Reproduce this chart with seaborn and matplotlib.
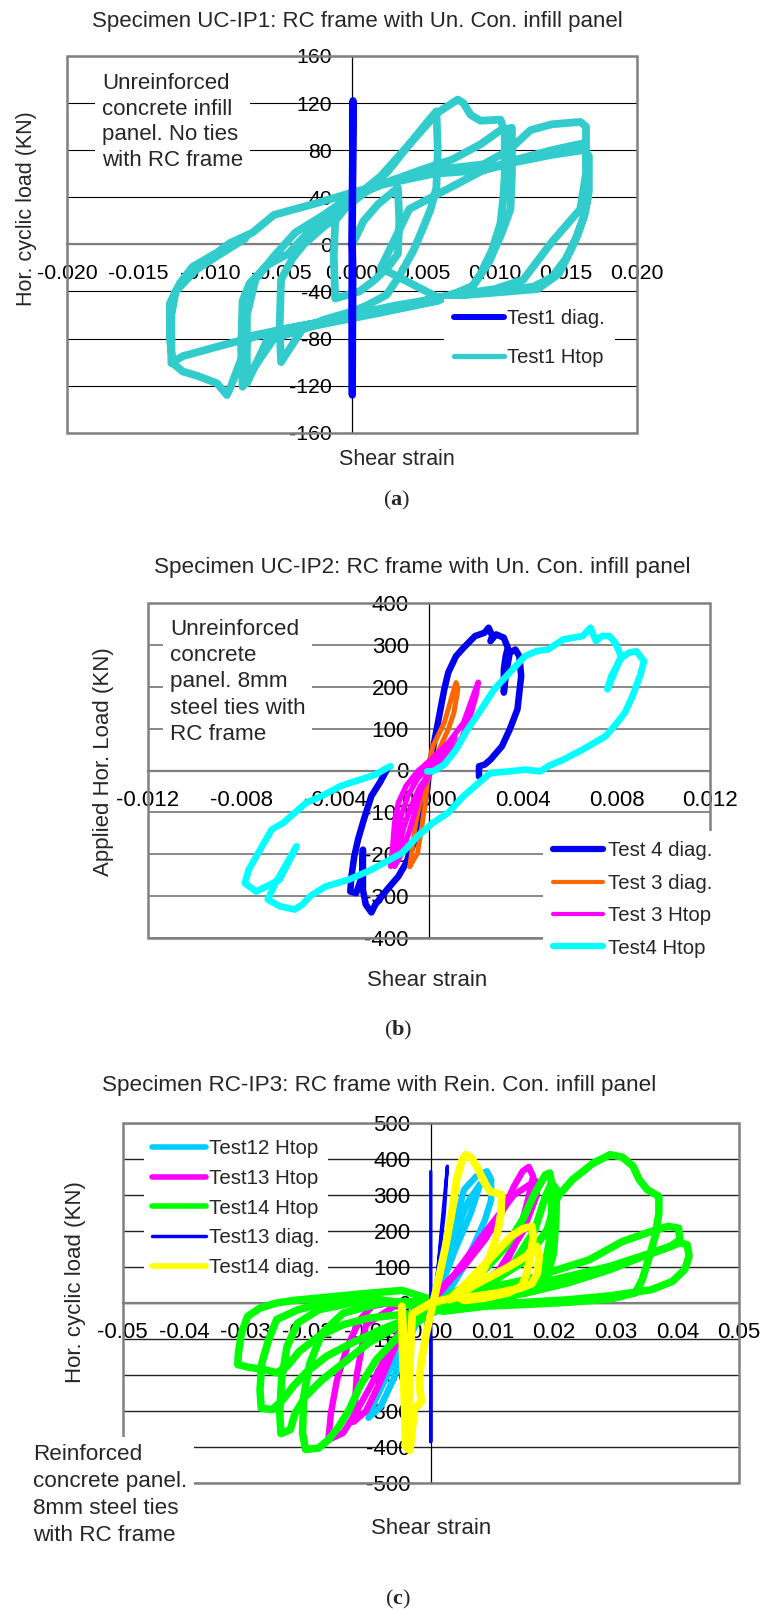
import numpy as np
import pandas as pd
import matplotlib
matplotlib.use("Agg")
import matplotlib.pyplot as plt
import seaborn as sns
from matplotlib.patches import Rectangle

sns.set_style("white")
plt.rcParams['font.family'] = ['Liberation Sans', 'DejaVu Sans']
plt.rcParams['mathtext.fontset'] = 'custom'
plt.rcParams['mathtext.rm'] = 'Liberation Serif'
plt.rcParams['mathtext.bf'] = 'Liberation Serif:bold'

# ---------------- Panel (a) data ----------------
a_xticks = [-0.020, -0.015, -0.010, -0.005, 0.000, 0.005, 0.010, 0.015, 0.020]
a_xlabels = ["-0.020", "-0.015", "-0.010", "-0.005", "0.000", "0.005", "0.010", "0.015", "0.020"]
a_yticks = [-160, -120, -80, -40, 0, 40, 80, 120, 160]
a_ylabels = ["-160", "-120", "-80", "-40", "0", "40", "80", "120", "160"]

a_diag_x = [0.0, 0.00003, 0.00005, 0.0, -0.00003, 0.0, 0.00004, 0.0]
a_diag_y = [0, 60, 122, 40, -60, -128, -20, 0]

a_htop_x = [0.0000, 0.0008, 0.0018, 0.0032, 0.0033, 0.0032, 0.0026, 0.0016, 0.0005, -0.0012, -0.0013, -0.0012,
            -0.0004, 0.0010, 0.0025, 0.0040, 0.0052, 0.0059, 0.0060, 0.0059, 0.0055, 0.0050, 0.0043, 0.0033, 0.0024, 0.0010, 0.0000,
            -0.0020, -0.0035, -0.0050, -0.0051, -0.0050, -0.0042, -0.0034, -0.0020, -0.0012, 0.0000,
            0.0020, 0.0040, 0.0060, 0.0074, 0.0078, 0.0083, 0.0090, 0.0104, 0.0107, 0.0107, 0.0106, 0.0104, 0.0098, 0.0090, 0.0083, 0.0060, 0.0030, 0.0000,
            -0.0030, -0.0055, -0.0072, -0.0077, -0.0078, -0.0077, -0.0072, -0.0060, -0.0045, -0.0035, -0.0020, 0.0000,
            0.0025, 0.0050, 0.0070, 0.0090, 0.0104, 0.0112, 0.0112, 0.0111, 0.0105, 0.0096, 0.0085, 0.0060, 0.0020, -0.0030, -0.0060, -0.0074, -0.0074, -0.0068, -0.0055, -0.0040, -0.0020, 0.0000,
            0.0030, 0.0057, 0.0092, 0.0110, 0.0125, 0.0140, 0.0160, 0.0164, 0.0164, 0.0165, 0.0165, 0.0162, 0.0157, 0.0150, 0.0140, 0.0127, 0.0105, 0.0080, 0.0057, 0.0030, 0.0000,
            -0.0048, -0.0072, -0.0085, -0.0088, -0.0095, -0.0108, -0.0119, -0.0126, -0.0128, -0.0128, -0.0121, -0.0112, -0.0095, -0.0086, -0.0070, -0.0055, -0.0025, 0.0000,
            0.0022, 0.0057, 0.0092, 0.0115, 0.0140, 0.0155, 0.0163, 0.0164, 0.0164, 0.0160, 0.0140, 0.0120, 0.0100, 0.0060, 0.0020,
            0.0040, 0.0092, 0.0115, 0.0140, 0.0162, 0.0166, 0.0166, 0.0163, 0.0158, 0.0152, 0.0145, 0.0130, 0.0100, 0.0070, 0.0040, 0.0000, -0.0048, -0.0095, -0.0119, -0.0127, -0.0127, -0.0124, -0.0110, -0.0095, -0.0075]
a_htop_y = [0, 20, 34, 48, 20, -8, -18, -30, -40, -46, -10, 20,
            32, 45, 62, 85, 103, 113, 80, 48, 30, 15, -5, -27, -43, -52, -57,
            -64, -72, -100, -70, -30, -12, 0, 15, 22, 38,
            58, 85, 112, 123, 120, 110, 105, 106, 95, 60, 40, 18, -5, -25, -38, -46, -52, -60,
            -70, -80, -110, -121, -90, -48, -33, -18, -8, 5, 22, 40,
            53, 64, 72, 85, 97, 99, 60, 30, 10, -15, -35, -48, -58, -70, -82, -118, -60, -30, -10, 10, 25, 42,
            55, 63, 68, 80, 97, 102, 104, 100, 85, 60, 38, 22, 5, -12, -28, -36, -39, -42, -46, -54, -61,
            -72, -78, -120, -128, -118, -112, -108, -101, -80, -50, -33, -19, -7, 1, 10, 25, 35, 44,
            51, 60, 63, 72, 80, 84, 86, 80, 60, 30, 2, -30, -38, -45, -20,
            30, 63, 70, 76, 80, 75, 45, 25, 8, -8, -25, -38, -41, -44, -52, -61, -72, -87, -95, -101, -60, -40, -22, -10, 5]

# ---------------- Panel (b) data ----------------
b_xticks = [-0.012, -0.008, -0.004, 0.000, 0.004, 0.008, 0.012]
b_xlabels = ["-0.012", "-0.008", "-0.004", "0.000", "0.004", "0.008", "0.012"]
b_yticks = [-400, -300, -200, -100, 0, 100, 200, 300, 400]
b_ylabels = ["-400", "-300", "-200", "-100", "0", "100", "200", "300", "400"]

b_t4diag_x = [-0.0018, -0.0021, -0.00246, -0.00278, -0.00303, -0.00319, -0.00331, -0.00336, -0.00311, -0.00286,
              -0.00282, -0.00282, -0.0027, -0.00246, -0.00229, -0.0018, -0.00131, -0.00098, -0.00065, -0.00033,
              -0.00008, 0.0, 0.00016, 0.00065, 0.00082, 0.00115, 0.00147, 0.00196, 0.00237, 0.00254,
              0.0027, 0.00262, 0.00286, 0.00319, 0.00336, 0.00327, 0.00319, 0.00319, 0.00327, 0.00344,
              0.00368, 0.00385, 0.00393, 0.00377, 0.00344, 0.00311, 0.00262, 0.00237, 0.00213, 0.00213]
b_t4diag_y = [2, -29, -61, -117, -165, -205, -253, -289, -293, -253,
              -189, -285, -320, -339, -320, -285, -253, -221, -173, -109,
              -45, 0, 50, 194, 234, 273, 293, 321, 329, 341,
              321, 309, 325, 317, 293, 273, 241, 186, 226, 281,
              289, 273, 226, 146, 98, 58, 26, 14, 10, -14]

b_t3diag_x = [-0.00082, -0.00074, -0.00057, -0.00033, 0.00016, 0.00065, 0.00098, 0.00115, 0.00123, 0.00106,
              0.00082, 0.00049, 0.00016, -0.00008, -0.00016, -0.00033, -0.00049, -0.00082]
b_t3diag_y = [-229, -197, -125, -61, 58, 114, 178, 210, 194, 138, 98, 58, 18, -29, -77, -141, -197, -229]

b_t3htop_x = [-0.00164, -0.00156, -0.00147, -0.00131, -0.00098, -0.00049, 0.0, 0.00082, 0.00147, 0.00188,
              0.0021, 0.002, 0.00172, 0.00139, 0.0009, 0.00041, 0.0, -0.00033, -0.00057, -0.00082, -0.00115, -0.00147,
              -0.0014, -0.0012, -0.0009, -0.0005, 0.0, 0.0006, 0.0011, 0.0006, 0.0001, -0.0004, -0.0008, -0.0011, -0.0013]
b_t3htop_y = [-229, -189, -125, -77, -37, -2, 22, 66, 114, 178,
              211, 178, 122, 78, 42, 14, -10, -45, -93, -141, -197, -229,
              -170, -110, -60, -20, 10, 45, 80, 40, 0, -40, -90, -140, -190]

b_t4htop_x = [-0.00008, 0.00016, 0.00065, 0.00115, 0.00164, 0.00213, 0.00278, 0.00344, 0.00409, 0.00458,
              0.00507, 0.00573, 0.00655, 0.00688, 0.00712, 0.00737, 0.00769, 0.00794, 0.00819, 0.00761,
              0.00778, 0.00819, 0.00851, 0.00884, 0.00917, 0.009, 0.00868, 0.00835, 0.00802, 0.00753,
              0.00704, 0.00655, 0.00573, 0.00507, 0.00475, 0.00409, 0.00344, 0.00262, 0.00213, 0.00147,
              0.00082, 0.00016, -0.00049, -0.00115, -0.00246, -0.00344, -0.00442, -0.00507, -0.0054, -0.00573,
              -0.00638, -0.00688, -0.00655, -0.00565, -0.00638, -0.00737, -0.00786, -0.00769, -0.00737, -0.00704,
              -0.00671, -0.00622, -0.00573, -0.00524, -0.00458, -0.00377, -0.00295, -0.00229, -0.0018, -0.00164]
b_t4htop_y = [-2, -2, 14, 50, 98, 138, 194, 234, 273, 285,
              289, 313, 321, 341, 309, 321, 321, 305, 273, 194,
              226, 268, 281, 285, 261, 226, 178, 138, 114, 82,
              66, 50, 26, 10, -2, 2, -2, -6, -29, -61,
              -101, -125, -157, -197, -237, -261, -277, -300, -320, -332,
              -324, -308, -269, -181, -261, -289, -269, -237, -205, -173,
              -141, -125, -101, -77, -61, -37, -22, -10, 6, 10]

# ---------------- Panel (c) data ----------------
c_xticks = [-0.05, -0.04, -0.03, -0.02, -0.01, 0.00, 0.01, 0.02, 0.03, 0.04, 0.05]
c_xlabels = ["-0.05", "-0.04", "-0.03", "-0.02", "-0.01", "0.00", "0.01", "0.02", "0.03", "0.04", "0.05"]
c_yticks = [-500, -400, -300, -200, -100, 0, 100, 200, 300, 400, 500]
c_ylabels = ["-500", "-400", "-300", "-200", "-100", "0", "100", "200", "300", "400", "500"]

c_t12htop_x = [0.0, 0.0014, 0.0034, 0.0047, 0.0054, 0.0074, 0.0091, 0.0098, 0.0098, 0.0088, 0.0074, 0.0054, 0.0034,
               0.0014, 0.0, -0.0007, -0.0034, -0.0054, -0.0074, -0.0095, -0.0101, -0.0081, -0.0061, -0.0041, -0.002,
               0.0, 0.003, 0.006, 0.008, 0.0065, 0.004, 0.002, 0.0]
c_t12htop_y = [0, 46, 157, 269, 315, 352, 366, 343, 287, 231, 176, 102, 46,
               19, 0, -19, -83, -139, -213, -287, -319, -287, -213, -120, -46,
               0, 150, 280, 330, 250, 150, 60, 0]

c_t13htop_x = [0.0007, 0.0054, 0.0088, 0.0115, 0.0135, 0.0149, 0.0159, 0.0166, 0.0159, 0.0149, 0.0135, 0.0115,
               0.0088, 0.0054, 0.002, 0.0, -0.0054, -0.0095, -0.0115, -0.0135, -0.0152, -0.0162, -0.0166, -0.0142,
               -0.0122, -0.0101, -0.0081, -0.0061, -0.0047, -0.0027, 0.0, 0.003, 0.009, 0.0135, 0.017, 0.0172,
               0.015, 0.011, 0.006, 0.0, -0.006, -0.0105, -0.012, -0.0125, -0.0105, -0.0085, -0.006, -0.003, 0.0]
c_t13htop_y = [28, 102, 176, 250, 324, 366, 378, 352, 296, 231, 157, 83,
               37, 14, 5, 0, 5, -9, -46, -120, -213, -306, -380, -361,
               -306, -241, -176, -111, -65, -19, 0, 60, 200, 300, 340, 300,
               200, 90, 30, 0, -10, -60, -200, -330, -300, -230, -130, -40, 0]

c_t14htop_x = [0.0, 0.002, 0.0054, 0.0088, 0.0122, 0.0149, 0.0169, 0.0186, 0.0193, 0.0197, 0.0196, 0.0193, 0.0186, 0.0176, 0.0155, 0.0122, 0.0074, 0.002,
               -0.0081, -0.0142, -0.0176, -0.0196, -0.0206, -0.0208, -0.0203, -0.0182, -0.0166, -0.0149, -0.0132, -0.0115, -0.0088, -0.0047, 0.0,
               0.0088, 0.0135, 0.0169, 0.0186, 0.0196, 0.0204, 0.0203, 0.0199, 0.0189, 0.0169, 0.0122, 0.0054,
               -0.0115, -0.0182, -0.0216, -0.0233, -0.0242, -0.0245, -0.0243, -0.0228, -0.022, -0.0203, -0.0176, -0.0142, -0.0101, -0.0054, 0.0,
               0.0088, 0.0155, 0.0189, 0.0206, 0.023, 0.0264, 0.0291, 0.0311, 0.0328, 0.0338, 0.0351, 0.037, 0.037, 0.0364, 0.0353, 0.0343, 0.0332, 0.0291, 0.0223, 0.0155, 0.0088, 0.002,
               -0.0081, -0.0169, -0.0216, -0.025, -0.0263, -0.0274, -0.0277, -0.0275, -0.0257, -0.024, -0.0223, -0.0203, -0.0169, -0.0128, -0.0081, -0.0034, 0.0,
               0.0054, 0.0155, 0.0257, 0.0311, 0.0358, 0.0385, 0.0402, 0.0404, 0.0389, 0.0345, 0.0291, 0.0223, 0.0155, 0.0088, 0.002,
               -0.0047, -0.0115, -0.0182, -0.0223, -0.025, -0.0277, -0.0297, -0.0307, -0.0312, -0.0313, -0.0297, -0.027, -0.025, -0.0233, -0.0213, -0.0182, -0.0142, -0.0101, -0.0047, 0.0,
               0.0155, 0.0291, 0.0358, 0.0405, 0.0416, 0.0419, 0.0412, 0.0392, 0.0358, 0.0291, 0.0223, 0.0155, 0.0088, 0.0]
c_t14htop_y = [0, 9, 46, 93, 157, 231, 306, 356, 361, 324, 250, 176, 111, 65, 37, 19, 7, 0,
               0, -28, -83, -167, -259, -361, -407, -403, -380, -343, -296, -231, -157, -83, -28,
               46, 111, 204, 296, 333, 315, 231, 139, 74, 37, 14, 2,
               5, -19, -56, -120, -213, -306, -363, -352, -306, -259, -213, -167, -111, -65, -28,
               46, 120, 204, 296, 343, 389, 412, 405, 380, 343, 315, 296, 250, 185, 120, 65, 28, 11, 2, -4, -9, -23,
               9, 2, -19, -46, -102, -167, -241, -292, -296, -269, -231, -194, -148, -111, -74, -42, -28,
               28, 65, 120, 171, 199, 213, 208, 176, 157, 130, 93, 56, 28, 14, 0,
               35, 25, 14, 7, 0, -14, -37, -83, -139, -171, -178, -185, -194, -176, -134, -93, -60, -42, -32, -23,
               46, 102, 139, 167, 162, 130, 93, 60, 37, 20, 9, 2, -5, -20]

c_t13diag_x = [0.0, 0.0, 0.0, -0.0008, 0.0, 0.001, 0.0017, 0.0027, 0.0022, 0.0012, 0.0005]
c_t13diag_y = [365, -385, -100, -60, 0, 60, 200, 380, 250, 100, 20]

c_t14diag_x = [0.0, -0.0030, -0.0034, -0.0036, -0.0040, -0.0047, -0.0046, -0.0044, -0.0042, -0.0041, -0.0034, -0.003, -0.0027, -0.0015, -0.0017, -0.0019, -0.0014, -0.0007, 0.0,
               0.001, 0.0024, 0.0034, 0.0042, 0.0051, 0.0057, 0.0066, 0.0076, 0.0086, 0.0096, 0.0115, 0.0114, 0.0108, 0.0098, 0.0086, 0.0073, 0.0053, 0.003,
               0.0047, 0.0074, 0.0105, 0.013, 0.0149, 0.0164, 0.0166, 0.0162, 0.0155, 0.0147, 0.0125, 0.0088, 0.0054,
               0.0041, 0.0088, 0.0128, 0.0155, 0.0172, 0.0176, 0.0173, 0.0164, 0.0145, 0.0108, 0.0074, 0.0034, 0.0]
c_t14diag_y = [0, -30, -180, -330, -200, -9, -120, -213, -306, -398, -409, -352, -296, -273, -250, -213, -148, -83, -28,
               46, 157, 250, 343, 398, 412, 403, 375, 338, 310, 301, 250, 194, 139, 93, 56, 28, 9,
               37, 83, 139, 185, 206, 213, 185, 130, 79, 46, 28, 14, 7,
               23, 65, 102, 130, 157, 130, 83, 54, 41, 28, 19, 14, 0]

# ---------------- Figure ----------------
W, H = 760, 1611
fig = plt.figure(figsize=(W / 100, H / 100), dpi=100)


def fx(x):
    return x / W


def fy(y):
    return 1 - y / H


def px_axes(l, t, r, b):
    return fig.add_axes([l / W, 1 - b / H, (r - l) / W, (b - t) / H])


def style_axes(ax, xlim, ylim, xt, xl, yt, yl, fs, gcolor, glw):
    ax.set_xlim(xlim)
    ax.set_ylim(ylim)
    ax.set_xticks(xt)
    ax.set_xticklabels(xl)
    ax.set_yticks(yt)
    ax.set_yticklabels(yl)
    ax.set_xlabel('')
    ax.set_ylabel('')
    for s in ['top', 'right']:
        ax.spines[s].set_visible(False)
    ax.spines['left'].set_position(('data', 0))
    ax.spines['bottom'].set_position(('data', 0))
    ax.spines['left'].set_color('black')
    ax.spines['left'].set_linewidth(0.9)
    ax.spines['bottom'].set_color('#7f7f7f')
    ax.spines['bottom'].set_linewidth(1.6)
    ax.spines['left'].set_zorder(1.2)
    ax.spines['bottom'].set_zorder(1.2)
    ax.tick_params(axis='x', direction='out', length=4.5, width=1.0, color='#7f7f7f', pad=9.5,
                   labelsize=fs, labelcolor='black')
    ax.tick_params(axis='y', direction='out', length=4.5, width=0.9, color='black', pad=10,
                   labelsize=fs, labelcolor='black')
    ax.yaxis.grid(True, color=gcolor, lw=glw)
    ax.xaxis.grid(False)
    ax.set_axisbelow(True)
    ax.add_patch(Rectangle((0, 0), 1, 1, transform=ax.transAxes, fill=False,
                           ec='#808080', lw=1.8, zorder=1.5, clip_on=False))


def draw(ax, xs, ys, color, lw, label):
    df = pd.DataFrame({'x': xs, 'y': ys})
    sns.lineplot(data=df, x='x', y='y', sort=False, estimator=None, ax=ax, color=color,
                 lw=lw, label=label, solid_joinstyle='round', solid_capstyle='round', legend=False)
    return ax.lines[-1]


def make_legend(ax, handles, labels, widths, left, top, fs, hl, htp, ls, bp):
    leg = ax.legend(handles, labels, loc='upper left', bbox_to_anchor=(fx(left), fy(top)),
                    bbox_transform=fig.transFigure, frameon=True, fancybox=False,
                    edgecolor='none', facecolor='white', framealpha=1, fontsize=fs,
                    handlelength=hl, handletextpad=htp, labelspacing=ls, borderpad=bp,
                    borderaxespad=0)
    for ln, w in zip(leg.get_lines(), widths):
        ln.set_linewidth(w)
        ln.set_solid_capstyle('round')
    return leg


tbox = dict(boxstyle='square,pad=0.3', fc='white', ec='none')

# ----- Panel (a) -----
axa = px_axes(67.3, 56, 637.3, 432.7)
la2 = draw(axa, a_htop_x, a_htop_y, '#33CCCC', 5.6, 'Test1 Htop')
la1 = draw(axa, a_diag_x, a_diag_y, '#0000FF', 5.2, 'Test1 diag.')
style_axes(axa, (-0.02, 0.02), (-160, 160), a_xticks, a_xlabels, a_yticks, a_ylabels, 15.3, 'black', 0.8)
make_legend(axa, [la1, la2], ['Test1 diag.', 'Test1 Htop'], [4.3, 3.8],
            444, 299, 14.5, 2.5, 0.15, 1.0, 0.5)
fig.text(fx(357), fy(22), 'Specimen UC-IP1: RC frame with Un. Con. infill panel',
         ha='center', va='center', fontsize=16)
fig.text(fx(27), fy(209), 'Hor. cyclic load (KN)', rotation=90, ha='center', va='center', fontsize=15.5)
fig.text(fx(397), fy(460), 'Shear strain', ha='center', va='center', fontsize=15.5)
fig.text(fx(102), fy(122), 'Unreinforced\nconcrete infill\npanel. No ties\nwith RC frame',
         ha='left', va='center', fontsize=16, linespacing=1.28, bbox=tbox)
fig.text(fx(397), fy(500), r'$\mathrm{(}\mathbf{a}\mathrm{)}$', ha='center', va='center', fontsize=16)

# ----- Panel (b) -----
axb = px_axes(147.7, 603, 710.4, 938)
lb1 = draw(axb, b_t4diag_x, b_t4diag_y, '#0000EE', 4.7, 'Test 4 diag.')
lb2 = draw(axb, b_t3diag_x, b_t3diag_y, '#FF6600', 3.6, 'Test 3 diag.')
lb3 = draw(axb, b_t3htop_x, b_t3htop_y, '#FF00FF', 3.9, 'Test 3 Htop')
lb4 = draw(axb, b_t4htop_x, b_t4htop_y, '#00FFFF', 4.8, 'Test4 Htop')
style_axes(axb, (-0.012, 0.012), (-400, 400), b_xticks, b_xlabels, b_yticks, b_ylabels, 16, '#7f7f7f', 1.3)
make_legend(axb, [lb1, lb2, lb3, lb4], ['Test 4 diag.', 'Test 3 diag.', 'Test 3 Htop', 'Test4 Htop'],
            [4.5, 3.0, 3.0, 4.5], 543, 831, 14.7, 2.45, 0.25, 0.66, 0.5)
fig.text(fx(422), fy(567), 'Specimen UC-IP2: RC frame with Un. Con. infill panel',
         ha='center', va='center', fontsize=16.2)
fig.text(fx(103), fy(762), 'Applied Hor. Load (KN)', rotation=90, ha='center', va='center', fontsize=16)
fig.text(fx(427), fy(980), 'Shear strain', ha='center', va='center', fontsize=16)
fig.text(fx(170), fy(682), 'Unreinforced\nconcrete\npanel. 8mm\nsteel ties with\nRC frame',
         ha='left', va='center', fontsize=16.2, linespacing=1.34, bbox=tbox)
fig.text(fx(398), fy(1030), r'$\mathrm{(}\mathbf{b}\mathrm{)}$', ha='center', va='center', fontsize=16)

# ----- Panel (c) -----
axc = px_axes(122.5, 1123, 739, 1483)
lc1 = draw(axc, c_t12htop_x, c_t12htop_y, '#00CCFF', 4.6, 'Test12 Htop')
lc2 = draw(axc, c_t13htop_x, c_t13htop_y, '#FF00FF', 4.6, 'Test13 Htop')
lc3 = draw(axc, c_t14htop_x, c_t14htop_y, '#00FF00', 5.4, 'Test14 Htop')
lc4 = draw(axc, c_t13diag_x, c_t13diag_y, '#0000FF', 2.4, 'Test13 diag.')
lc5 = draw(axc, c_t14diag_x, c_t14diag_y, '#FFFF00', 5.6, 'Test14 diag.')
style_axes(axc, (-0.05, 0.05), (-500, 500), c_xticks, c_xlabels, c_yticks, c_ylabels, 16, '#222222', 1.0)
make_legend(axc, [lc1, lc2, lc3, lc4, lc5],
            ['Test12 Htop', 'Test13 Htop', 'Test14 Htop', 'Test13 diag.', 'Test14 diag.'],
            [4.0, 4.0, 4.0, 2.5, 4.0], 144, 1131, 14.8, 2.6, 0.15, 0.52, 0.4)
fig.text(fx(379), fy(1085), 'Specimen RC-IP3: RC frame with Rein. Con. infill panel',
         ha='center', va='center', fontsize=16.2)
fig.text(fx(75), fy(1282), 'Hor. cyclic load (KN)', rotation=90, ha='center', va='center', fontsize=16)
fig.text(fx(431), fy(1528), 'Shear strain', ha='center', va='center', fontsize=16)
fig.text(fx(33), fy(1495), 'Reinforced\nconcrete panel.\n8mm steel ties\nwith RC frame',
         ha='left', va='center', fontsize=16.2, linespacing=1.38, bbox=tbox)
fig.text(fx(398), fy(1599), r'$\mathrm{(}\mathbf{c}\mathrm{)}$', ha='center', va='center', fontsize=16)

fig.savefig('out.png', dpi=100, facecolor='white')
